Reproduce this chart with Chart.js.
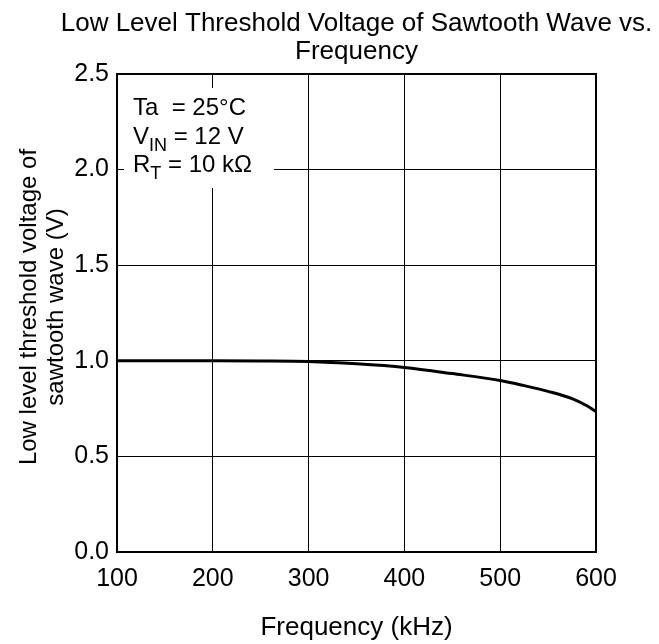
<!DOCTYPE html>
<html lang="en">
<head>
    <meta charset="UTF-8">
    <title>Low Level Threshold Voltage of Sawtooth Wave vs. Frequency</title>
    <script src="https://cdn.jsdelivr.net/npm/chart.js"></script>
</head>
<style>
    html, body { margin: 0; padding: 0; background: #fff; }
    .chart-container { width: 659px; height: 644px; position: relative; }
</style>
<body>
    <div class="chart-container">
        <canvas id="thresholdChart"></canvas>
    </div>

    <script>
        // data
        const freqKHz = [100, 150, 200, 250, 300, 350, 400, 450, 500, 525, 550, 575, 590, 600];
        const lowThresholdV = [1.0, 1.0, 1.0, 0.999, 0.996, 0.984, 0.965, 0.933, 0.897, 0.870, 0.840, 0.802, 0.766, 0.735];

        const xTicks = [100, 200, 300, 400, 500, 600];
        const yTicks = [0, 0.5, 1.0, 1.5, 2.0, 2.5];

        const titleLines = ['Low Level Threshold Voltage of Sawtooth Wave vs.', 'Frequency'];
        const yTitleLines = ['Low level threshold voltage of', 'sawtooth wave (V)'];
        const xTitle = 'Frequency (kHz)';
        // conditions box, each line split into normal / subscript runs
        const conditions = [
            [{ t: 'Ta  = 25\u00B0C' }],
            [{ t: 'V' }, { t: 'IN', sub: true }, { t: ' = 12 V' }],
            [{ t: 'R' }, { t: 'T', sub: true }, { t: ' = 10 k\u03A9' }]
        ];

        const FONT = '"Liberation Sans", Arial, sans-serif';

        function drawRuns(ctx, x, y, runs) {
            for (const r of runs) {
                ctx.font = (r.sub ? '18px ' : '24px ') + FONT;
                ctx.fillText(r.t, x, r.sub ? y + 7 : y);
                x += ctx.measureText(r.t).width;
            }
        }

        const textPlugin = {
            id: 'textPlugin',
            afterDraw(chart) {
                const ctx = chart.ctx;
                const area = chart.chartArea;
                const cx = (area.left + area.right) / 2;
                const cy = (area.top + area.bottom) / 2;
                ctx.save();
                ctx.fillStyle = '#000';

                // chart title, centred over the plot area
                ctx.font = '26px ' + FONT;
                ctx.textAlign = 'center';
                ctx.textBaseline = 'middle';
                ctx.fillText(titleLines[0], cx, 24);
                ctx.fillText(titleLines[1], cx, 52);

                // x axis title
                ctx.fillText(xTitle, cx, 628);

                // y axis title, two rotated lines
                ctx.save();
                ctx.translate(0, cy - 6);
                ctx.rotate(-Math.PI / 2);
                ctx.font = '24px ' + FONT;
                ctx.fillText(yTitleLines[0], 0, 29);
                ctx.fillText(yTitleLines[1], 0, 56);
                ctx.restore();

                // conditions box covers the grid behind it
                ctx.fillStyle = '#fff';
                ctx.fillRect(124, 88, 150, 100);
                ctx.fillStyle = '#000';
                ctx.textAlign = 'left';
                ctx.textBaseline = 'alphabetic';
                const baselines = [115, 144, 172];
                conditions.forEach((runs, i) => drawRuns(ctx, 133, baselines[i], runs));

                ctx.restore();
            }
        };

        const ctx = document.getElementById('thresholdChart').getContext('2d');
        new Chart(ctx, {
            type: 'line',
            data: {
                datasets: [{
                    data: freqKHz.map((f, i) => ({ x: f, y: lowThresholdV[i] })),
                    borderColor: '#000',
                    borderWidth: 3,
                    pointRadius: 0,
                    cubicInterpolationMode: 'monotone',
                    fill: false
                }]
            },
            options: {
                responsive: true,
                maintainAspectRatio: false,
                animation: false,
                devicePixelRatio: 1,
                layout: { padding: { top: 74, right: 63, left: 0, bottom: 0 } },
                plugins: {
                    legend: { display: false },
                    tooltip: { enabled: false }
                },
                scales: {
                    x: {
                        type: 'linear',
                        min: 100,
                        max: 600,
                        afterFit(scale) { scale.height = 92; },
                        afterBuildTicks(scale) { scale.ticks = xTicks.map(v => ({ value: v })); },
                        ticks: {
                            color: '#000',
                            font: { family: FONT, size: 25 },
                            padding: 12,
                            maxRotation: 0
                        },
                        grid: { color: '#000', lineWidth: 1, drawTicks: false },
                        border: { color: '#000', width: 2 }
                    },
                    y: {
                        min: 0,
                        max: 2.5,
                        afterFit(scale) { scale.width = 117; },
                        afterBuildTicks(scale) { scale.ticks = yTicks.map(v => ({ value: v })); },
                        ticks: {
                            color: '#000',
                            font: { family: FONT, size: 25 },
                            padding: 8,
                            callback: v => v.toFixed(1)
                        },
                        grid: { color: '#000', lineWidth: 1, drawTicks: false },
                        border: { color: '#000', width: 2 }
                    }
                }
            },
            plugins: [textPlugin, {
                id: 'frame',
                afterDatasetsDraw(chart) {
                    const a = chart.chartArea;
                    const c = chart.ctx;
                    c.save();
                    c.strokeStyle = '#000';
                    c.lineWidth = 2;
                    c.strokeRect(a.left, a.top, a.right - a.left, a.bottom - a.top);
                    c.restore();
                }
            }]
        });
    </script>
</body>
</html>
